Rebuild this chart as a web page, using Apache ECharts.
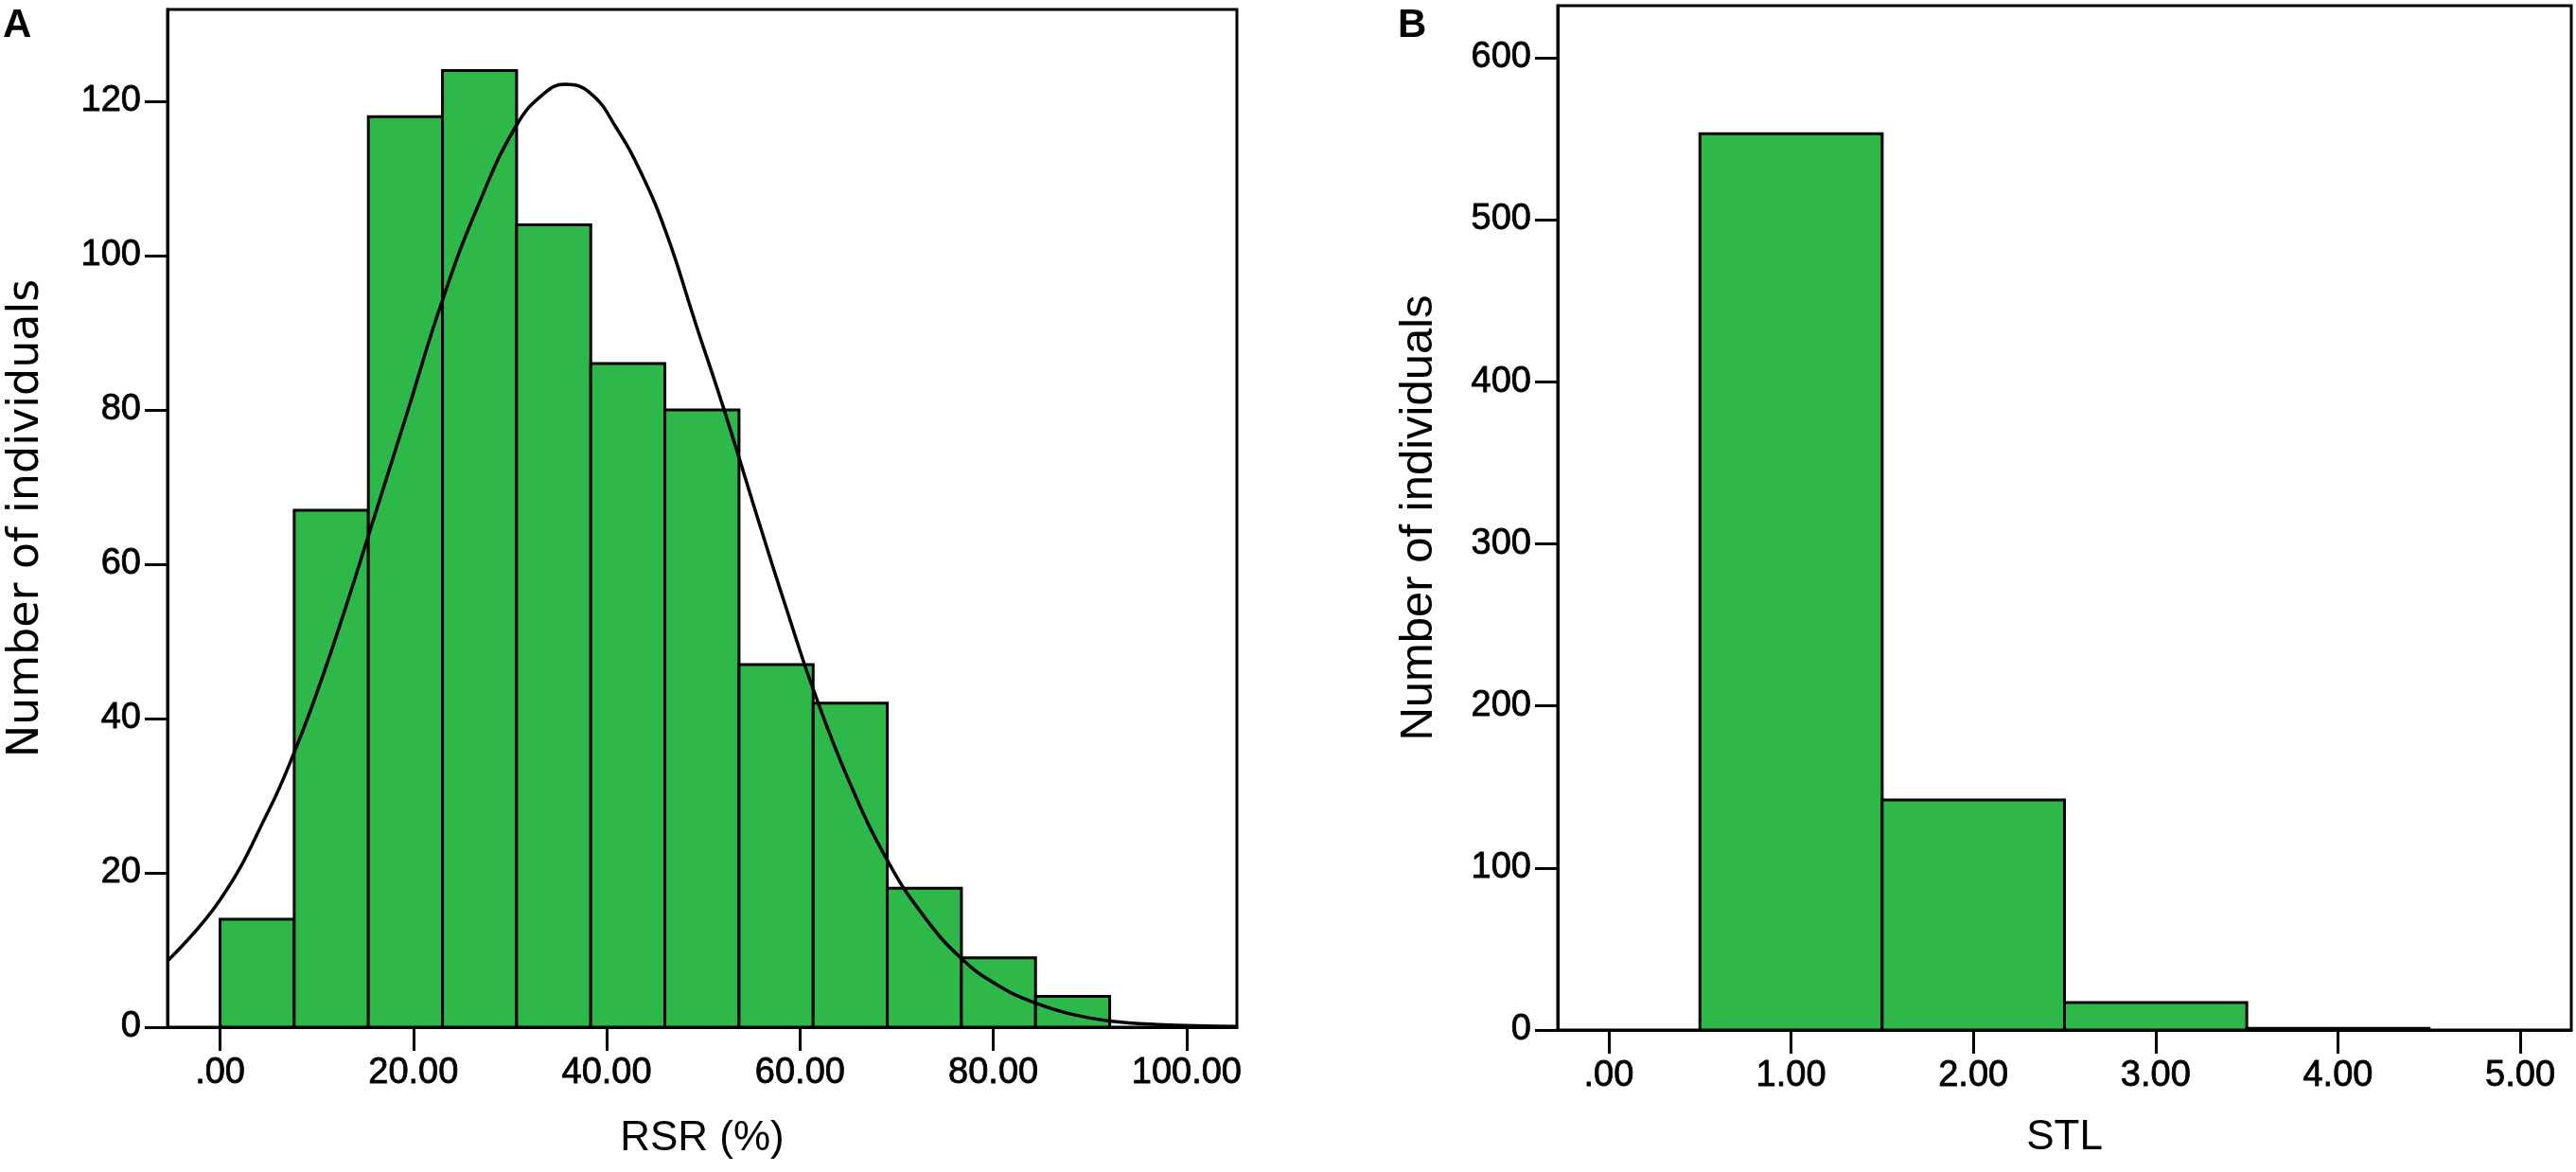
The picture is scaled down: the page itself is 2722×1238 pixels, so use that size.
<!DOCTYPE html>
<html>
<head>
<meta charset="utf-8">
<title>RSR / STL histograms</title>
<script src="https://cdn.jsdelivr.net/npm/echarts@6/dist/echarts.min.js"></script>
<style>
    html, body {margin: 0; padding: 0; background: #fff;}
    #chart {width: 2722px; height: 1238px;}
</style>
</head>
<body>
<div id="chart"></div>
<script>
// panel A: RSR (%) histogram, bin edges and counts
var rsrEdges = [0, 7.67, 15.34, 23.01, 30.68, 38.35, 46.02, 53.69, 61.36, 69.03, 76.7, 84.37, 92.04];
var rsrCounts = [14, 67, 118, 124, 104, 86, 80, 47, 42, 18, 9, 4];
// normal curve drawn over panel A
var curveX = [-5.44, 0, 5, 7.73, 10.2, 12.5, 15.32, 19.25, 23.0, 26.74, 30.67, 33.5, 35.7, 38.36, 40.98,
    43.6, 46.2, 49.2, 52.2, 55.96, 58.5, 61.45, 65, 69, 72.8, 76.7, 80.5, 84.4, 88, 92, 97, 105.2];
var curveY = [8.6, 16.5, 28, 35.8, 44, 52.5, 63.6, 79.2, 94.2, 106.6, 116.9, 121, 122.2, 121, 116.6,
    110.6, 102.8, 91.2, 79.8, 64.6, 54.6, 43.5, 32.1, 21.7, 14.4, 8.9, 5.4, 3.1, 1.7, 0.8, 0.35, 0.08];
var rsrTicksX = [0, 20, 40, 60, 80, 100];
var rsrTicksY = [0, 20, 40, 60, 80, 100, 120];

// panel B: STL histogram
var stlEdges = [0.5, 1.5, 2.5, 3.5, 4.5];
var stlCounts = [553, 142, 17, 1];
var stlTicksX = [0, 1, 2, 3, 4, 5];
var stlTicksY = [0, 100, 200, 300, 400, 500, 600];

var GREEN = '#2fb84a';
var LINE_W = 3;

function binData(edges, counts) {
    var out = [];
    for (var i = 0; i < counts.length; i++) {
        out.push([edges[i], edges[i + 1], counts[i]]);
    }
    return out;
}

function renderBin(params, api) {
    var p0 = api.coord([api.value(0), api.value(2)]);
    var p1 = api.coord([api.value(1), 0]);
    return {
        type: 'rect',
        shape: {x: p0[0], y: p0[1], width: p1[0] - p0[0], height: p1[1] - p0[1]},
        style: {fill: GREEN, stroke: '#000', lineWidth: LINE_W}
    };
}

// whole curve as one smoothed polyline (line series flattens the peak)
function renderCurve(params, api) {
    var pts = [];
    for (var i = 0; i < curveX.length; i++) {
        pts.push(api.coord([curveX[i], curveY[i]]));
    }
    return {
        type: 'polyline',
        shape: {points: pts, smooth: 0.45},
        style: {stroke: '#000', lineWidth: 3.5, fill: null}
    };
}

function fmtX(v) {
    if (v === 0) return '.00';
    return v.toFixed(2);
}

// a thin border makes the tick text a bit heavier, like the scan
var tickLabel = {color: '#000', fontFamily: 'Liberation Sans', fontSize: 38, textBorderColor: '#000', textBorderWidth: 0.8};

function xAxisOf(idx, min, max, ticks, name, gap) {
    return {
        type: 'value', gridIndex: idx, min: min, max: max,
        name: name, nameLocation: 'middle', nameGap: gap,
        nameTextStyle: {color: '#000', fontFamily: 'Liberation Sans', fontSize: 44},
        splitLine: {show: false},
        axisLine: {show: true, onZero: false, lineStyle: {color: '#000', width: LINE_W}},
        axisTick: {show: true, inside: false, length: 25, customValues: ticks, lineStyle: {color: '#000', width: LINE_W}},
        axisLabel: Object.assign({margin: 30, customValues: ticks, formatter: fmtX}, tickLabel)
    };
}

function yAxisOf(idx, max, ticks, font, size, gap) {
    return {
        type: 'value', gridIndex: idx, min: 0, max: max,
        name: 'Number of individuals', nameLocation: 'middle', nameGap: gap,
        nameTextStyle: {color: '#000', fontFamily: font, fontSize: size},
        splitLine: {show: false},
        axisLine: {show: true, onZero: false, lineStyle: {color: '#000', width: LINE_W}},
        axisTick: {show: true, inside: false, length: 24, customValues: ticks, lineStyle: {color: '#000', width: LINE_W}},
        axisLabel: Object.assign({margin: 28, customValues: ticks}, tickLabel)
    };
}

var chart = echarts.init(document.getElementById('chart'), null, {renderer: 'canvas'});
chart.setOption({
    backgroundColor: '#fff',
    animation: false,
    grid: [
        {left: 177, top: 10, width: 1130, height: 1075, show: true, borderColor: '#000', borderWidth: LINE_W},
        {left: 1646, top: 6, width: 1071, height: 1082, show: true, borderColor: '#000', borderWidth: LINE_W}
    ],
    xAxis: [
        xAxisOf(0, -5.44, 105.2, rsrTicksX, 'RSR (%)', 96),
        xAxisOf(1, -0.28, 5.28, stlTicksX, 'STL', 92)
    ],
    yAxis: [
        yAxisOf(0, 131.9, rsrTicksY, 'DejaVu Sans', 46, 126),
        yAxisOf(1, 632, stlTicksY, 'Liberation Sans', 49, 122)
    ],
    graphic: [
        {type: 'text', left: 3, top: 6, style: {text: 'A', fill: '#000', font: 'bold 42px "Liberation Sans"'}},
        {type: 'text', left: 1477, top: 6, style: {text: 'B', fill: '#000', font: 'bold 42px "Liberation Sans"'}}
    ],
    series: [
        {
            type: 'custom', xAxisIndex: 0, yAxisIndex: 0,
            renderItem: renderBin, data: binData(rsrEdges, rsrCounts), z: 2
        },
        {
            type: 'custom', xAxisIndex: 0, yAxisIndex: 0, clip: true,
            renderItem: renderCurve, data: [[curveX[0], curveY[0]]], z: 3
        },
        {
            type: 'custom', xAxisIndex: 1, yAxisIndex: 1,
            renderItem: renderBin, data: binData(stlEdges, stlCounts), z: 2
        }
    ]
});
</script>
</body>
</html>
